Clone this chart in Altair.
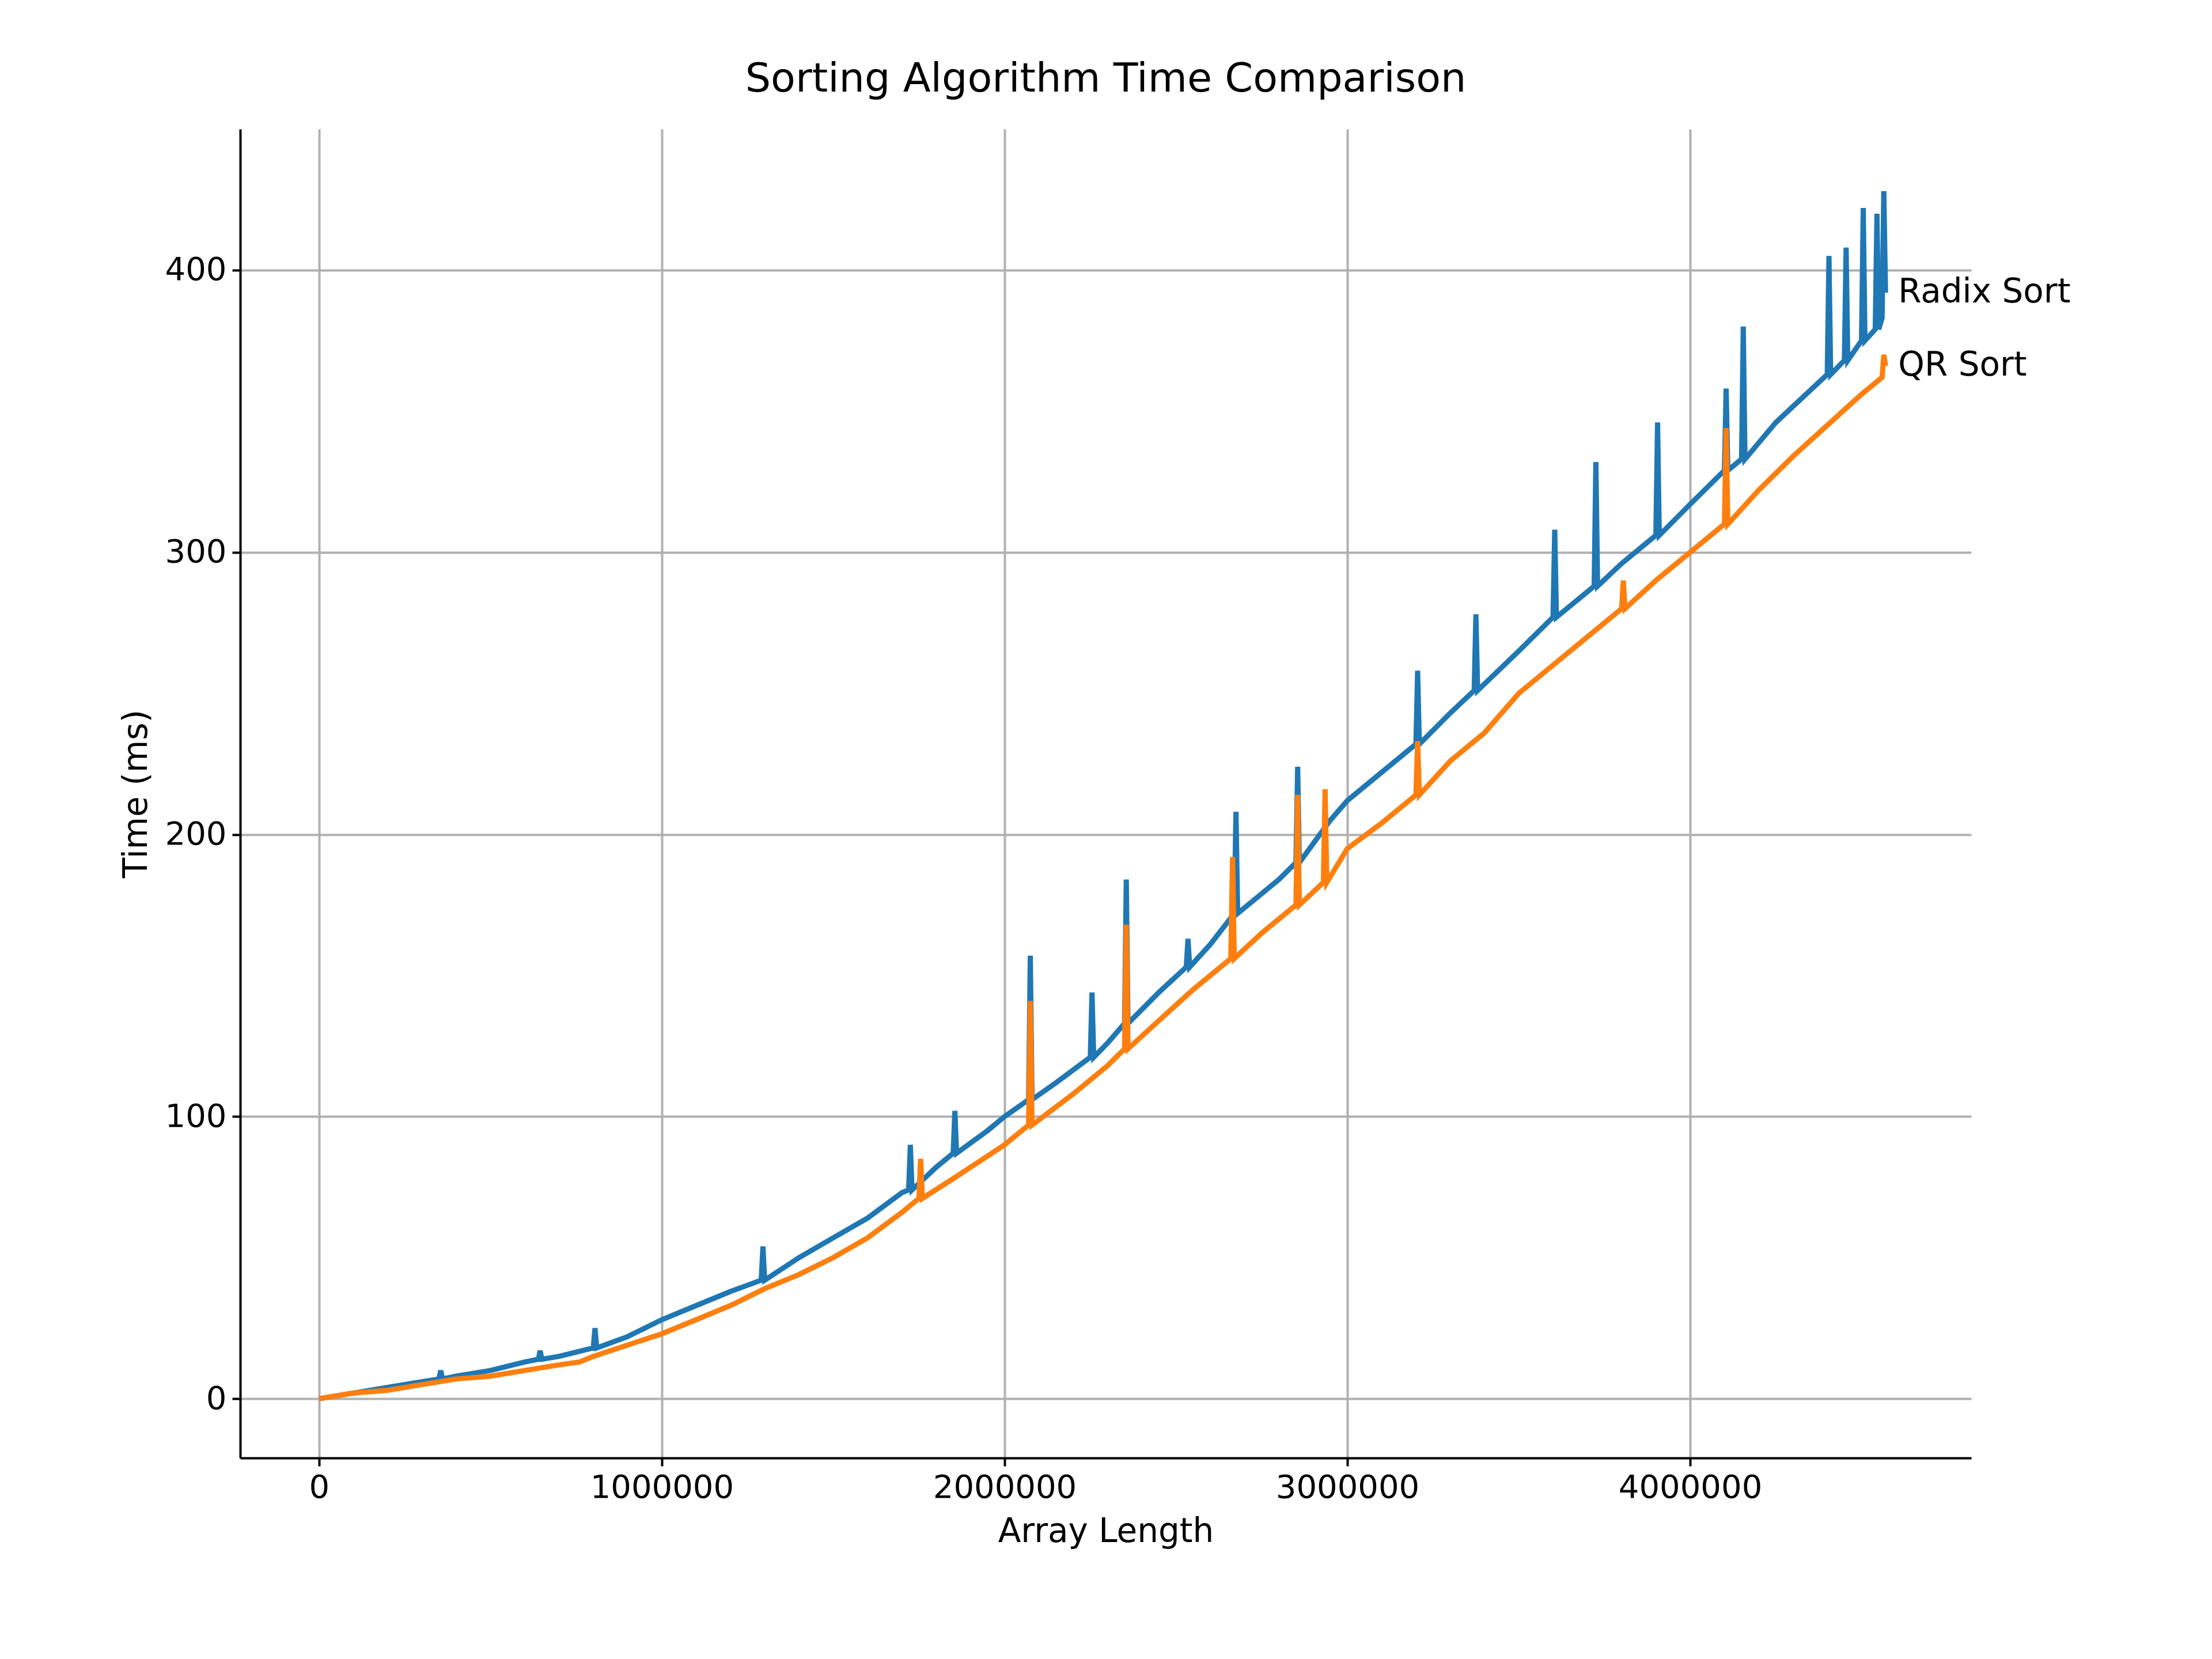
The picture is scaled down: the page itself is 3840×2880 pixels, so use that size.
import pandas as pd
import altair as alt

# Values (baseline points plus spikes)
radix_len = [0, 100000, 200000, 300000, 350000, 355000, 360000, 400000, 500000, 600000, 640000, 645000, 650000,
             700000, 800000, 805000, 810000, 900000, 1000000, 1100000, 1200000, 1290000, 1295000, 1300000,
             1400000, 1500000, 1600000, 1700000, 1720000, 1725000, 1730000, 1800000, 1850000, 1855000, 1860000,
             1950000, 2000000, 2070000, 2075000, 2080000, 2150000, 2250000, 2255000, 2260000, 2300000,
             2350000, 2355000, 2360000, 2450000, 2530000, 2535000, 2540000, 2600000, 2670000, 2675000, 2680000,
             2800000, 2850000, 2855000, 2860000, 2950000, 3000000, 3100000, 3200000, 3205000, 3210000,
             3300000, 3370000, 3375000, 3380000, 3500000, 3600000, 3605000, 3610000, 3720000, 3725000, 3730000,
             3800000, 3900000, 3905000, 3910000, 4000000, 4100000, 4105000, 4110000, 4150000, 4155000, 4160000,
             4250000, 4400000, 4405000, 4410000, 4450000, 4455000, 4460000, 4500000, 4505000, 4510000,
             4540000, 4545000, 4550000, 4560000, 4565000, 4570000]
radix_time = [0, 2, 4, 6, 7, 10, 7, 8, 10, 13, 14, 17, 14,
              15, 18, 25, 18, 22, 28, 33, 38, 42, 54, 42,
              50, 57, 64, 73, 74, 90, 74, 82, 87, 102, 87,
              95, 100, 106, 157, 106, 112, 121, 144, 121, 126,
              133, 184, 133, 144, 153, 163, 153, 161, 172, 208, 172,
              184, 190, 224, 190, 205, 212, 222, 232, 258, 232,
              243, 251, 278, 251, 265, 277, 308, 277, 288, 332, 288,
              296, 306, 346, 306, 317, 329, 358, 329, 333, 380, 333,
              346, 363, 405, 363, 368, 408, 368, 375, 422, 375,
              379, 420, 379, 383, 428, 392]

qr_len = [0, 100000, 200000, 300000, 400000, 500000, 600000, 700000, 760000, 800000, 900000, 1000000,
          1100000, 1200000, 1300000, 1400000, 1500000, 1600000, 1700000, 1750000, 1755000, 1760000,
          1850000, 1950000, 2000000, 2070000, 2075000, 2080000, 2200000, 2300000, 2350000, 2355000, 2360000,
          2450000, 2550000, 2660000, 2665000, 2670000, 2750000, 2850000, 2855000, 2860000, 2930000, 2935000,
          2940000, 3000000, 3100000, 3200000, 3205000, 3210000, 3300000, 3400000, 3500000, 3600000, 3700000,
          3800000, 3805000, 3810000, 3900000, 4000000, 4100000, 4105000, 4110000, 4200000, 4300000,
          4400000, 4500000, 4560000, 4565000, 4570000]
qr_time = [0, 2, 3, 5, 7, 8, 10, 12, 13, 15, 19, 23,
           28, 33, 39, 44, 50, 57, 66, 71, 85, 71,
           78, 86, 90, 97, 141, 97, 108, 118, 124, 168, 124,
           134, 145, 156, 192, 156, 165, 175, 214, 175, 183, 216,
           183, 195, 204, 214, 233, 214, 226, 236, 250, 260, 270,
           280, 290, 280, 290, 300, 310, 344, 310, 322, 334,
           345, 356, 362, 370, 366]

BLUE = "#1f77b4"
ORANGE = "#ff7f0e"

df = pd.concat([
    pd.DataFrame({"len": radix_len, "time": radix_time, "algo": "Radix Sort"}),
    pd.DataFrame({"len": qr_len, "time": qr_time, "algo": "QR Sort"}),
], ignore_index=True)
df["order"] = df.index

labels = pd.DataFrame({"len": [radix_len[-1], qr_len[-1]],
                       "time": [radix_time[-1], qr_time[-1]],
                       "algo": ["Radix Sort", "QR Sort"]})

x = alt.X("len:Q", title="Array Length",
          scale=alt.Scale(domain=[-230000, 4820000], nice=False, zero=False),
          axis=alt.Axis(values=[0, 1000000, 2000000, 3000000, 4000000], format="d"))
y = alt.Y("time:Q", title="Time (ms)",
          scale=alt.Scale(domain=[-21, 450], nice=False, zero=False),
          axis=alt.Axis(values=[0, 100, 200, 300, 400]))
color = alt.Color("algo:N", scale=alt.Scale(domain=["Radix Sort", "QR Sort"], range=[BLUE, ORANGE]),
                  legend=None)

lines = alt.Chart(df).mark_line(strokeWidth=9).encode(x=x, y=y, color=color, order="order:Q")
text = alt.Chart(labels).mark_text(align="left", dx=22, fontSize=58, color="black",
                                   font="DejaVu Sans").encode(x=x, y=y, text="algo:N")

chart = (lines + text).properties(
    width=3005, height=2307,
    padding={"left": 200, "top": 95, "right": 20, "bottom": 20},
    title=alt.Title("Sorting Algorithm Time Comparison", fontSize=70, fontWeight="normal",
                    font="DejaVu Sans", offset=50),
    background="white",
).configure_view(stroke=None).configure_axis(
    domainColor="black", domainWidth=4, tickColor="black", tickWidth=4, tickSize=14,
    gridColor="#b0b0b0", gridWidth=4, labelFontSize=56, titleFontSize=58,
    labelFont="DejaVu Sans", titleFont="DejaVu Sans", titleFontWeight="normal",
    labelColor="black", titleColor="black", labelPadding=10, titlePadding=20,
    labelLimit=0,
).configure_axisY(titleAngle=-90)

chart.save("out.html", embed_options={"renderer": "svg", "actions": False})
